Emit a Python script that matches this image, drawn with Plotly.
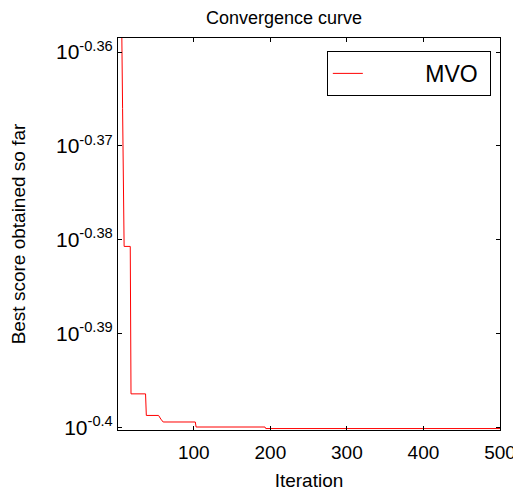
import plotly.graph_objects as go

# Convergence curve of MVO (knots of the step-like best-so-far curve)
iterations = [1, 5, 6, 7, 8, 9, 17, 18, 37, 38, 54, 55, 57, 60, 102, 103, 193, 194, 500]
best_score = [0.43814, 0.43814, 0.43814, 0.43053, 0.42267, 0.41620, 0.41620,
              0.40142, 0.40142, 0.39930, 0.39930, 0.39912, 0.39894, 0.39866, 0.39866,
              0.39817, 0.39817, 0.39802, 0.39802]

x_ticks = [100, 200, 300, 400, 500]
y_tick_exponents = ['-0.36', '-0.37', '-0.38', '-0.39', '-0.4']

font_family = 'Liberation Sans, Arial, sans-serif'
nbsp = '&nbsp;'

trace = go.Scatter(
    x=iterations,
    y=best_score,
    mode='lines',
    line={'color': '#ff0000', 'width': 1},
    # padded so the legend box is as wide as in the original
    name=nbsp * 9 + 'MVO' + nbsp,
)

# the page body keeps its default 8px margin, so the figure is 8px smaller
layout = go.Layout(
    width=513,
    height=484,
    paper_bgcolor='white',
    plot_bgcolor='white',
    margin={'l': 110, 'r': 21, 't': 30, 'b': 62},
    font={'family': font_family, 'size': 19, 'color': 'black'},
    title={'text': 'Convergence curve', 'x': 0.538, 'xanchor': 'center',
           'y': 0.979, 'yanchor': 'middle', 'font': {'size': 18}},
    xaxis={
        'title': {'text': 'Iteration', 'standoff': 11, 'font': {'size': 19}},
        'range': [1, 500],
        'tickvals': x_ticks,
        'tickfont': {'size': 19},
        'ticklabelstandoff': 5,
        'ticks': 'inside',
        'ticklen': 4,
        'tickcolor': 'black',
        'showline': True,
        'linecolor': 'black',
        'linewidth': 1,
        'mirror': 'allticks',
        'showgrid': False,
        'zeroline': False,
        'automargin': False,
    },
    yaxis={
        'title': {'text': 'Best score obtained so far', 'standoff': 26, 'font': {'size': 19}},
        'type': 'log',
        'range': [-0.40025, -0.3585],
        'tickvals': [10 ** float(e) for e in y_tick_exponents],
        'ticktext': ['10<sup>{}</sup>'.format(e) for e in y_tick_exponents],
        'tickfont': {'size': 21},
        'ticks': 'inside',
        'ticklen': 4,
        'tickcolor': 'black',
        'showline': True,
        'linecolor': 'black',
        'linewidth': 1,
        'mirror': 'allticks',
        'showgrid': False,
        'zeroline': False,
        'automargin': False,
    },
    legend={
        'x': 0.976, 'y': 0.967, 'xanchor': 'right', 'yanchor': 'top',
        'bordercolor': 'black', 'borderwidth': 1,
        'bgcolor': 'white',
        'font': {'size': 23},
    },
    showlegend=True,
)

fig = go.Figure(data=[trace], layout=layout)
fig.write_html('out.html')
